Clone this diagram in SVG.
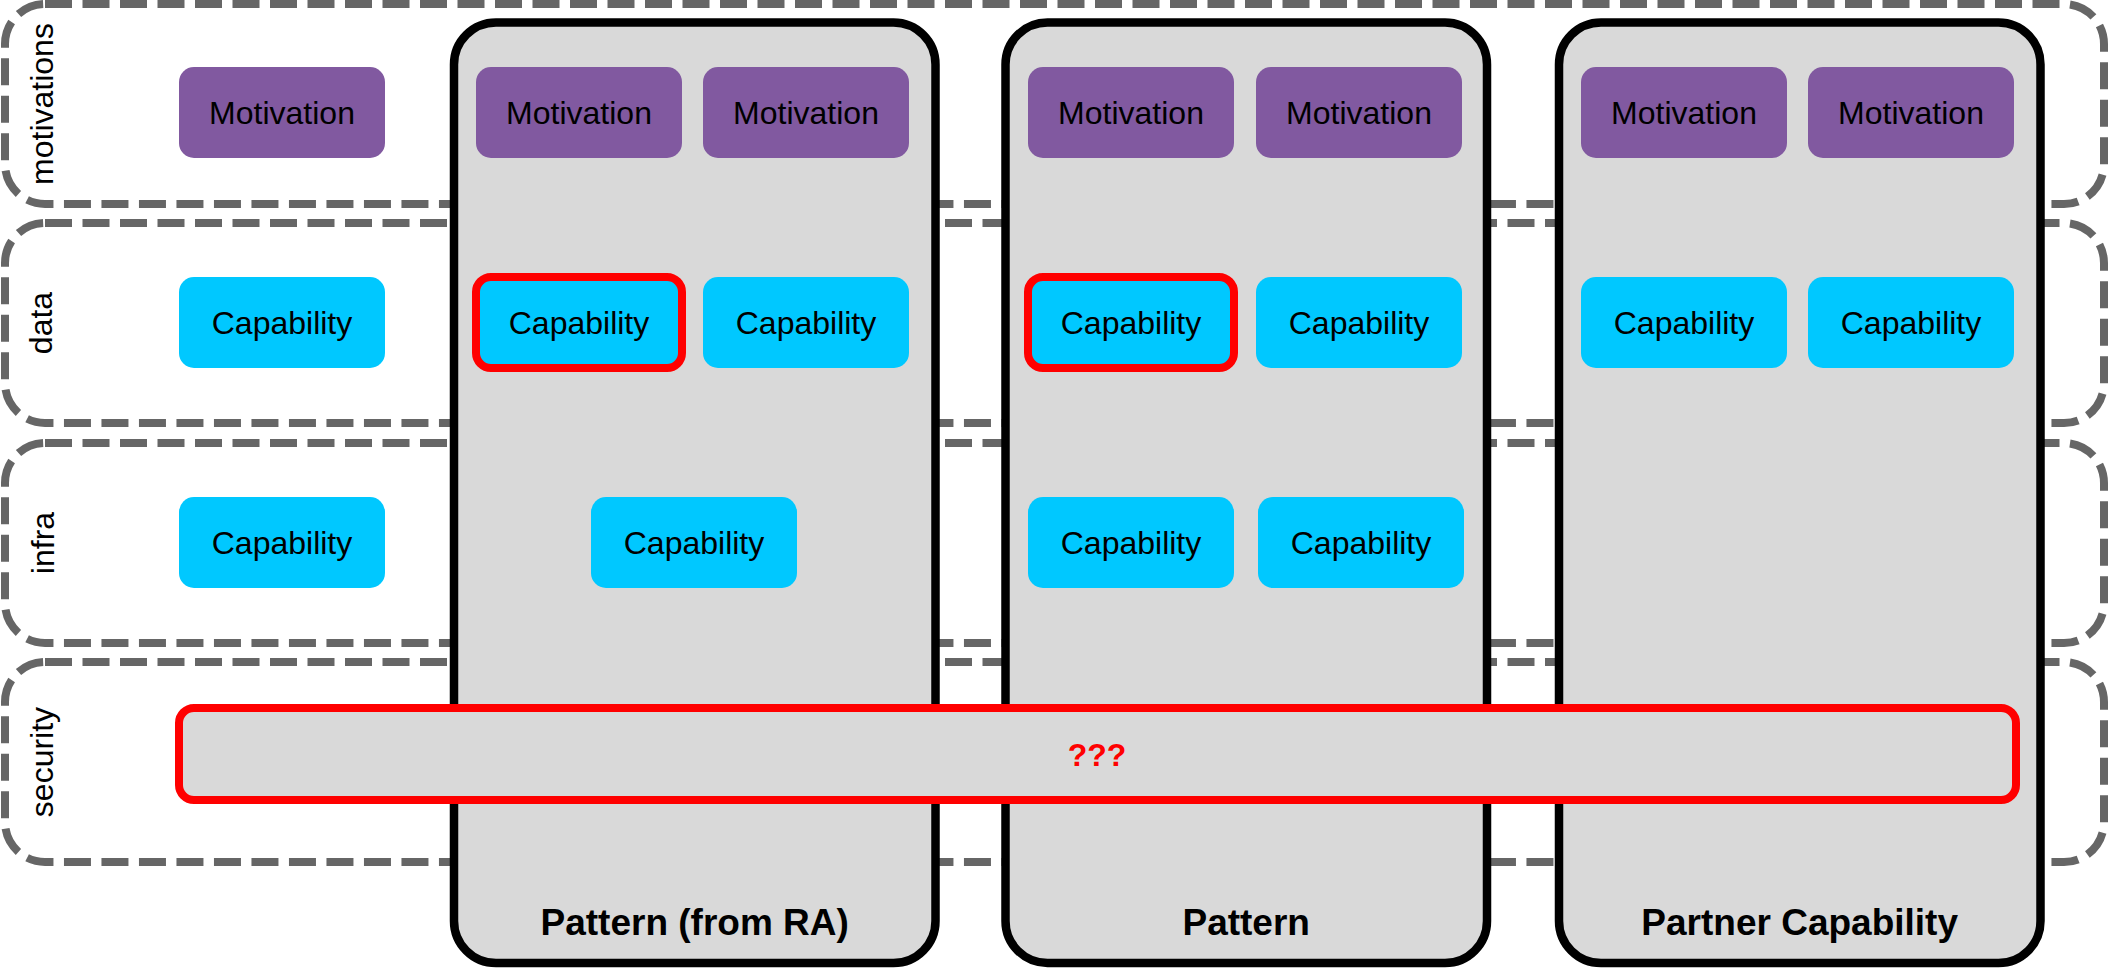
<svg xmlns="http://www.w3.org/2000/svg" width="2109" height="968" viewBox="0 0 2109 968">
<style>
.lane{fill:none;stroke:#666666;stroke-width:8;stroke-dasharray:27 10.5}
.lanelbl{font-family:"Liberation Sans",Arial,sans-serif;font-size:32px;fill:#000;text-anchor:middle}
.cont{fill:#d9d9d9;stroke:#000;stroke-width:8.5}
.contlbl{font-family:"Liberation Sans",Arial,sans-serif;font-size:37px;font-weight:bold;fill:#000;text-anchor:middle}
.mot{fill:#8159a0}
.cap{fill:#00c8ff}
.hl{stroke:#ff0000;stroke-width:8}
.lbl{font-family:"Liberation Sans",Arial,sans-serif;font-size:32px;fill:#000;text-anchor:middle}
.sec{fill:#d9d9d9;stroke:#ff0000;stroke-width:8}
.seclbl{font-family:"Liberation Sans",Arial,sans-serif;font-size:32px;font-weight:bold;fill:#ff0000;text-anchor:middle}
</style>
<g id="lanes">
  <g id="lane-motivations"><rect class="lane" x="5" y="4" width="2099" height="200" rx="40"/><text class="lanelbl" transform="translate(53,104) rotate(-90)">motivations</text></g>
  <g id="lane-data"><rect class="lane" x="5" y="223" width="2099" height="200" rx="40"/><text class="lanelbl" transform="translate(52,323) rotate(-90)">data</text></g>
  <g id="lane-infra"><rect class="lane" x="5" y="443" width="2099" height="200" rx="40"/><text class="lanelbl" transform="translate(54,543) rotate(-90)">infra</text></g>
  <g id="lane-security"><rect class="lane" x="5" y="662" width="2099" height="200" rx="40"/><text class="lanelbl" transform="translate(53,762) rotate(-90)">security</text></g>
</g>
<g id="containers">
  <g id="pattern-ra"><rect class="cont" x="454" y="22.5" width="481.5" height="940.5" rx="42"/><text class="contlbl" x="694.7" y="935">Pattern (from RA)</text></g>
  <g id="pattern"><rect class="cont" x="1005.5" y="22.5" width="481.5" height="940.5" rx="42"/><text class="contlbl" x="1246.2" y="935">Pattern</text></g>
  <g id="partner"><rect class="cont" x="1559" y="22.5" width="481.5" height="940.5" rx="42"/><text class="contlbl" x="1799.7" y="935">Partner Capability</text></g>
</g>
<g id="connectors"></g>
<g id="nodes">
  <g id="m0"><rect class="mot" x="179" y="67" width="206" height="91" rx="15"/><text class="lbl" x="282" y="124">Motivation</text></g>
  <g id="m1"><rect class="mot" x="476" y="67" width="206" height="91" rx="15"/><text class="lbl" x="579" y="124">Motivation</text></g>
  <g id="m2"><rect class="mot" x="703" y="67" width="206" height="91" rx="15"/><text class="lbl" x="806" y="124">Motivation</text></g>
  <g id="m3"><rect class="mot" x="1028" y="67" width="206" height="91" rx="15"/><text class="lbl" x="1131" y="124">Motivation</text></g>
  <g id="m4"><rect class="mot" x="1256" y="67" width="206" height="91" rx="15"/><text class="lbl" x="1359" y="124">Motivation</text></g>
  <g id="m5"><rect class="mot" x="1581" y="67" width="206" height="91" rx="15"/><text class="lbl" x="1684" y="124">Motivation</text></g>
  <g id="m6"><rect class="mot" x="1808" y="67" width="206" height="91" rx="15"/><text class="lbl" x="1911" y="124">Motivation</text></g>

  <g id="d0"><rect class="cap" x="179" y="277" width="206" height="91" rx="15"/><text class="lbl" x="282" y="334">Capability</text></g>
  <g id="d1"><rect class="cap hl" x="476" y="277" width="206" height="91" rx="15"/><text class="lbl" x="579" y="334">Capability</text></g>
  <g id="d2"><rect class="cap" x="703" y="277" width="206" height="91" rx="15"/><text class="lbl" x="806" y="334">Capability</text></g>
  <g id="d3"><rect class="cap hl" x="1028" y="277" width="206" height="91" rx="15"/><text class="lbl" x="1131" y="334">Capability</text></g>
  <g id="d4"><rect class="cap" x="1256" y="277" width="206" height="91" rx="15"/><text class="lbl" x="1359" y="334">Capability</text></g>
  <g id="d5"><rect class="cap" x="1581" y="277" width="206" height="91" rx="15"/><text class="lbl" x="1684" y="334">Capability</text></g>
  <g id="d6"><rect class="cap" x="1808" y="277" width="206" height="91" rx="15"/><text class="lbl" x="1911" y="334">Capability</text></g>

  <g id="i0"><rect class="cap" x="179" y="497" width="206" height="91" rx="15"/><text class="lbl" x="282" y="554">Capability</text></g>
  <g id="i1"><rect class="cap" x="591" y="497" width="206" height="91" rx="15"/><text class="lbl" x="694" y="554">Capability</text></g>
  <g id="i2"><rect class="cap" x="1028" y="497" width="206" height="91" rx="15"/><text class="lbl" x="1131" y="554">Capability</text></g>
  <g id="i3"><rect class="cap" x="1258" y="497" width="206" height="91" rx="15"/><text class="lbl" x="1361" y="554">Capability</text></g>

  <g id="security-bar"><rect class="sec" x="179" y="708" width="1837" height="92" rx="15"/><text class="seclbl" x="1097" y="766">???</text></g>
</g>
</svg>
